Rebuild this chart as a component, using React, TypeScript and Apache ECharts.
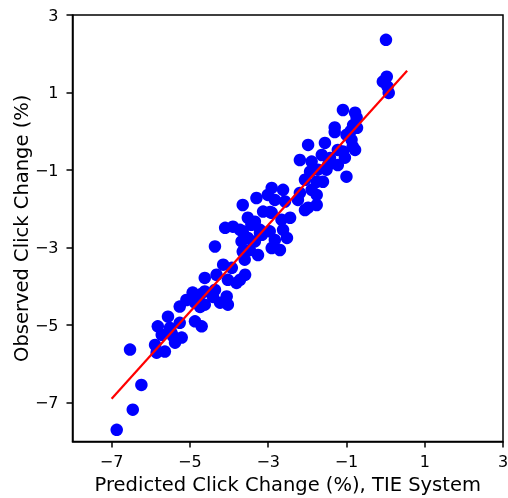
import React, { useEffect, useRef } from "react";
import * as echarts from "echarts";

const predicted: number[] = [
  0.01, 0.03, -0.07, 0.08, 0.05, -0.02,
  -1.09, -0.78, -0.74, -1.3, -1.3, -1.0, -0.87, -0.84, -1.09,
  -0.83, -0.73, -0.89, -0.78,
  -1.98, -1.55, -2.19, -1.89, -1.63, -1.42, -1.22, -1.0, -1.73, -1.51, -1.93,
  -2.06, -1.76, -1.6, -1.89, -2.19, -2.62, -2.91, -3.01, -3.3, -2.83, -2.57,
  -2.24, -1.98, -1.76, -1.76, -3.13, -2.91, -2.66, -2.44, -3.34, -3.65, -2.06,
  -3.52, -4.1, -3.9, -3.65, -3.43, -3.21, -2.96, -2.62, -2.52, -3.68, -3.52,
  -3.34, -2.91, -2.7, -4.36, -3.65, -3.6, -3.26, -4.15, -3.16, -2.83, -3.47,
  -3.93, -4.62, -4.32, -4.03, -3.81, -3.59, -4.93, -4.62, -4.36, -4.06, -4.74,
  -5.09, -5.26, -4.87, -4.62, -4.23, -4.03, -5.56, -5.26, -4.87, -4.7, -5.82,
  -5.51, -5.72, -5.43, -5.21, -5.89, -5.47, -5.38, -6.53, -5.85, -5.64, -6.24,
  -6.46, -6.87,
  -1.22, -1.04, -1.47, -2.95, -3.72, -4.41, -4.74, -3.21, -3.72,
];

const observed: number[] = [
  2.36, 1.41, 1.28, 0.99, 1.15, 1.32,
  0.55, 0.48, 0.35, 0.1, -0.02, -0.09, -0.22, -0.39, -0.52,
  0.16, 0.09, 0.01, -0.48,
  -0.35, -0.3, -0.74, -0.78, -0.61, -0.69, -0.87, -1.17, -0.99, -0.99, -1.04,
  -1.25, -1.3, -1.3, -1.51, -1.59, -1.51, -1.46, -1.64, -1.72, -1.77, -1.81,
  -1.77, -1.97, -1.64, -1.9, -2.07, -2.1, -2.28, -2.23, -2.33, -1.9, -2.03,
  -2.23, -2.49, -2.46, -2.58, -2.41, -2.54, -2.58, -2.54, -2.75, -2.84, -2.75,
  -2.84, -3.01, -3.06, -2.97, -3.1, -3.31, -3.19, -3.44, -2.67, -2.8, -3.06,
  -3.52, -3.78, -3.7, -3.83, -3.91, -3.7, -4.16, -4.13, -4.09, -4.26, -4.21,
  -4.35, -4.52, -4.42, -4.47, -4.42, -4.47, -4.78, -4.94, -4.9, -5.03, -5.03,
  -5.07, -5.25, -5.29, -5.32, -5.51, -5.2, -5.45, -5.63, -5.71, -5.68, -6.54,
  -7.18, -7.7,
  -0.48, -0.68, -0.87, -2.08, -3.83, -4.27, -4.53, -2.62, -2.54,
];

const fitLine: [number, number][] = [
  [-7.0, -6.9],
  [0.55, 1.56],
];

const tickValues: number[] = [-7, -5, -3, -1, 1, 3];

const FONT = "DejaVu Sans";

export default function App() {
  const ref = useRef<HTMLDivElement>(null);
  useEffect(() => {
    if (!ref.current) return;
    const chart = echarts.init(ref.current, undefined, { renderer: "svg" });
    const fmt = (v: number) => String(v).replace("-", "\u2212");
    const axisCommon = {
      min: -8,
      max: 3,
      interval: 1,
      nameLocation: "middle" as const,
      nameMoveOverlap: false,
      nameTextStyle: { fontFamily: FONT, fontSize: 19.5, color: "#000" },
      axisLine: { show: true, onZero: false, lineStyle: { color: "#000", width: 1.5 } },
      axisTick: {
        show: true,
        inside: false,
        length: 6,
        customValues: tickValues,
        lineStyle: { color: "#000", width: 1.5 },
      },
      axisLabel: {
        customValues: tickValues,
        formatter: fmt,
        fontFamily: FONT,
        fontSize: 16,
        color: "#000",
      },
      splitLine: { show: false },
    };
    chart.setOption({
      animation: false,
      grid: {
        left: 72.5,
        right: 5,
        top: 15,
        bottom: 56.5,
        show: true,
        borderColor: "#000",
        borderWidth: 1.5,
        backgroundColor: "transparent",
        outerBoundsMode: "none",
        containLabel: false,
      },
      xAxis: {
        ...axisCommon,
        type: "value",
        name: "Predicted Click Change (%), TIE System",
        nameGap: 31,
        nameMoveOverlap: true,
        axisLabel: { ...axisCommon.axisLabel, margin: 12 },
      },
      yAxis: {
        ...axisCommon,
        type: "value",
        name: "Observed Click Change (%)",
        nameGap: 41,
        axisLabel: { ...axisCommon.axisLabel, margin: 14 },
      },
      series: [
        {
          type: "scatter",
          data: predicted.map((x, i) => [x, observed[i]]),
          symbolSize: 12.5,
          itemStyle: { color: "#0000ff", opacity: 1 },
          z: 2,
        },
        {
          type: "line",
          data: fitLine,
          showSymbol: false,
          symbol: "none",
          lineStyle: { color: "#ff0000", width: 2.2 },
          z: 3,
        },
      ],
    });
    return () => chart.dispose();
  }, []);
  return (
    <div
      ref={ref}
      style={{ position: "fixed", left: 0, top: 0, width: 508, height: 498 }}
    />
  );
}
